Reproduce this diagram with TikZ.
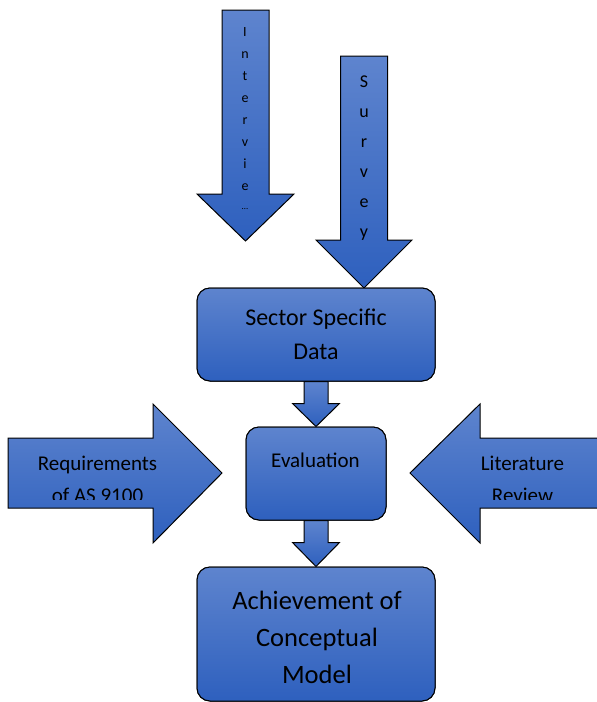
\documentclass[tikz,border=0pt]{standalone}
\usepackage{fontspec}
\setmainfont{Carlito}
\usetikzlibrary{calc}
\definecolor{blueTop}{RGB}{94,132,206}
\definecolor{blueBot}{RGB}{46,96,190}
\tikzset{
  x=1pt, y=1pt,
  blockfill/.style={top color=blueTop, bottom color=blueBot, draw=black, line width=1pt, line join=miter},
  box/.style={blockfill, rounded corners=13pt, inner sep=0pt, minimum width=#1},
  lbl/.style={anchor=base, inner sep=0pt, text=black},
}
\begin{document}
\begin{tikzpicture}
\useasboundingbox (0,0) rectangle (597,-702);

% ---- boxes (positions) ----
\path (316,-334.5) node[box=238pt, minimum height=93pt] (ssd) {};
\path (316,-473.5) node[box=140pt, minimum height=93pt] (eval) {};
\path (316,-634) node[box=238pt, minimum height=134pt] (ach) {};

% ---- big input arrows ----
\coordinate (ivtip) at (245.5,-241);
\draw[blockfill] ($(ivtip)+(-23.5,231)$) -- ($(ivtip)+(-23.5,47)$) -- ($(ivtip)+(-48.5,47)$) -- (ivtip)
  -- ($(ivtip)+(48.5,47)$) -- ($(ivtip)+(23.5,47)$) -- ($(ivtip)+(23.5,231)$) -- cycle;

\coordinate (svtip) at (364,-288);
\draw[blockfill] ($(svtip)+(-23.5,232)$) -- ($(svtip)+(-23.5,48)$) -- ($(svtip)+(-48,48)$) -- (svtip)
  -- ($(svtip)+(48,48)$) -- ($(svtip)+(23.5,48)$) -- ($(svtip)+(23.5,232)$) -- cycle;

\coordinate (rqtip) at (222,-473);
\draw[blockfill] ($(rqtip)+(-214,35)$) -- ($(rqtip)+(-69,35)$) -- ($(rqtip)+(-69,69)$) -- (rqtip)
  -- ($(rqtip)+(-69,-70)$) -- ($(rqtip)+(-69,-35)$) -- ($(rqtip)+(-214,-35)$) -- cycle;

\coordinate (lttip) at (410,-473);
\draw[blockfill] ($(lttip)+(200,35)$) -- ($(lttip)+(70,35)$) -- ($(lttip)+(70,69)$) -- (lttip)
  -- ($(lttip)+(70,-70)$) -- ($(lttip)+(70,-35)$) -- ($(lttip)+(200,-35)$) -- cycle;

% ---- connectors between boxes ----
\draw[blockfill] ($(ssd.south)+(-12,0)$) -- ($(eval.north)+(-12,23)$) -- ($(eval.north)+(-23.5,23)$) -- (eval.north)
  -- ($(eval.north)+(23.5,23)$) -- ($(eval.north)+(12,23)$) -- ($(ssd.south)+(12,0)$) -- cycle;
\draw[blockfill] ($(eval.south)+(-12,0)$) -- ($(ach.north)+(-12,24)$) -- ($(ach.north)+(-23.5,24)$) -- (ach.north)
  -- ($(ach.north)+(23.5,24)$) -- ($(ach.north)+(12,24)$) -- ($(eval.south)+(12,0)$) -- cycle;

% redraw boxes on top
\path (316,-334.5) node[box=238pt, minimum height=93pt] (ssdb) {};
\path (316,-473.5) node[box=140pt, minimum height=93pt] (evalb) {};
\path (316,-634) node[box=238pt, minimum height=134pt] (achb) {};

% ---- texts ----
\node[lbl, font=\fontsize{24}{34}\selectfont] (t1) at (316,-325) {Sector Specific};
\node[lbl, font=\fontsize{24}{34}\selectfont] (t2) at (316,-359) {Data};
\node[lbl, font=\fontsize{21}{29}\selectfont] (t3) at (315.5,-467) {Evaluation};
\node[lbl, font=\fontsize{26.5}{37}\selectfont] (t4) at (317,-609) {Achievement of};
\node[lbl, font=\fontsize{26.5}{37}\selectfont] (t5) at (317,-646) {Conceptual};
\node[lbl, font=\fontsize{26.5}{37}\selectfont] (t6) at (317,-683) {Model};

\begin{scope}
  \clip (0,-400) rectangle (597,-499);
  \node[lbl, font=\fontsize{21}{29}\selectfont] (t7) at (97.5,-470.5) {Requirements};
  \node[lbl, font=\fontsize{21}{29}\selectfont] (t8) at (97.5,-502) {of AS 9100};
  \node[lbl, font=\fontsize{21}{29}\selectfont] (t9) at (522.5,-470.5) {Literature};
  \node[lbl, font=\fontsize{21}{29}\selectfont] (t10) at (522.5,-502) {Review};
\end{scope}

\foreach \ch [count=\i from 0] in {I,n,t,e,r,v,i,e}
  \node[lbl, font=\fontsize{14}{16}\selectfont] (iv\i) at (245,-36-22*\i) {\ch};
\node[lbl, font=\fontsize{9}{10}\selectfont] (ivdots) at (245,-209) {\dots};

\foreach \ch [count=\i from 0] in {S,u,r,v,e,y}
  \node[lbl, font=\fontsize{18}{20}\selectfont] (sv\i) at (364,-87-30*\i) {\ch};
\end{tikzpicture}
\end{document}
